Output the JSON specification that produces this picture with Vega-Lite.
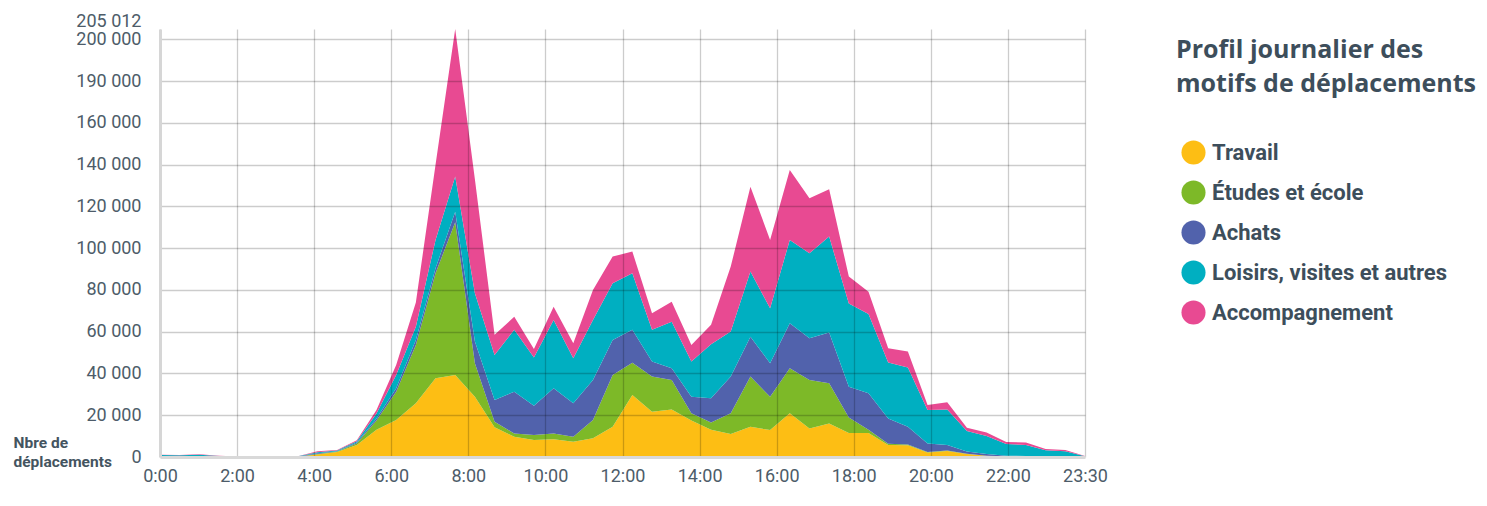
{
"$schema": "https://vega.github.io/schema/vega-lite/v6.json",
"width": 925, "height": 428,
"autosize": {"type": "none"},
"padding": {"left": 160, "top": 29, "right": 402, "bottom": 49},
"background": "white",
"datasets": {
"motifs": [{"m":"Travail","o":0},{"m":"Études et école","o":1},{"m":"Achats","o":2},{"m":"Loisirs, visites et autres","o":3},{"m":"Accompagnement","o":4}],
"trips": [
{"h":0,"m":"Travail","v":100},{"h":0,"m":"Études et école","v":20},{"h":0,"m":"Achats","v":80},{"h":0,"m":"Loisirs, visites et autres","v":700},{"h":0,"m":"Accompagnement","v":200},
{"h":0.5,"m":"Travail","v":100},{"h":0.5,"m":"Études et école","v":20},{"h":0.5,"m":"Achats","v":80},{"h":0.5,"m":"Loisirs, visites et autres","v":600},{"h":0.5,"m":"Accompagnement","v":200},
{"h":1,"m":"Travail","v":100},{"h":1,"m":"Études et école","v":20},{"h":1,"m":"Achats","v":80},{"h":1,"m":"Loisirs, visites et autres","v":900},{"h":1,"m":"Accompagnement","v":200},
{"h":1.5,"m":"Travail","v":50},{"h":1.5,"m":"Études et école","v":10},{"h":1.5,"m":"Achats","v":40},{"h":1.5,"m":"Loisirs, visites et autres","v":350},{"h":1.5,"m":"Accompagnement","v":150},
{"h":2,"m":"Travail","v":50},{"h":2,"m":"Études et école","v":10},{"h":2,"m":"Achats","v":20},{"h":2,"m":"Loisirs, visites et autres","v":120},{"h":2,"m":"Accompagnement","v":80},
{"h":2.5,"m":"Travail","v":50},{"h":2.5,"m":"Études et école","v":10},{"h":2.5,"m":"Achats","v":20},{"h":2.5,"m":"Loisirs, visites et autres","v":120},{"h":2.5,"m":"Accompagnement","v":50},
{"h":3,"m":"Travail","v":50},{"h":3,"m":"Études et école","v":10},{"h":3,"m":"Achats","v":20},{"h":3,"m":"Loisirs, visites et autres","v":120},{"h":3,"m":"Accompagnement","v":50},
{"h":3.5,"m":"Travail","v":150},{"h":3.5,"m":"Études et école","v":20},{"h":3.5,"m":"Achats","v":30},{"h":3.5,"m":"Loisirs, visites et autres","v":120},{"h":3.5,"m":"Accompagnement","v":80},
{"h":4,"m":"Travail","v":1200},{"h":4,"m":"Études et école","v":200},{"h":4,"m":"Achats","v":400},{"h":4,"m":"Loisirs, visites et autres","v":500},{"h":4,"m":"Accompagnement","v":400},
{"h":4.5,"m":"Travail","v":2400},{"h":4.5,"m":"Études et école","v":200},{"h":4.5,"m":"Achats","v":200},{"h":4.5,"m":"Loisirs, visites et autres","v":300},{"h":4.5,"m":"Accompagnement","v":300},
{"h":5,"m":"Travail","v":5800},{"h":5,"m":"Études et école","v":700},{"h":5,"m":"Achats","v":500},{"h":5,"m":"Loisirs, visites et autres","v":500},{"h":5,"m":"Accompagnement","v":500},
{"h":5.5,"m":"Travail","v":13000},{"h":5.5,"m":"Études et école","v":4500},{"h":5.5,"m":"Achats","v":1000},{"h":5.5,"m":"Loisirs, visites et autres","v":2300},{"h":5.5,"m":"Accompagnement","v":1700},
{"h":6,"m":"Travail","v":17700},{"h":6,"m":"Études et école","v":13600},{"h":6,"m":"Achats","v":1600},{"h":6,"m":"Loisirs, visites et autres","v":6400},{"h":6,"m":"Accompagnement","v":4800},
{"h":6.5,"m":"Travail","v":25700},{"h":6.5,"m":"Études et école","v":28000},{"h":6.5,"m":"Achats","v":2400},{"h":6.5,"m":"Loisirs, visites et autres","v":6300},{"h":6.5,"m":"Accompagnement","v":11600},
{"h":7,"m":"Travail","v":37700},{"h":7,"m":"Études et école","v":50300},{"h":7,"m":"Achats","v":2400},{"h":7,"m":"Loisirs, visites et autres","v":13600},{"h":7,"m":"Accompagnement","v":36000},
{"h":7.5,"m":"Travail","v":39300},{"h":7.5,"m":"Études et école","v":73200},{"h":7.5,"m":"Achats","v":5000},{"h":7.5,"m":"Loisirs, visites et autres","v":16800},{"h":7.5,"m":"Accompagnement","v":70712},
{"h":8,"m":"Travail","v":28900},{"h":8,"m":"Études et école","v":16000},{"h":8,"m":"Achats","v":10400},{"h":8,"m":"Loisirs, visites et autres","v":23100},{"h":8,"m":"Accompagnement","v":54600},
{"h":8.5,"m":"Travail","v":14200},{"h":8.5,"m":"Études et école","v":2700},{"h":8.5,"m":"Achats","v":10400},{"h":8.5,"m":"Loisirs, visites et autres","v":21600},{"h":8.5,"m":"Accompagnement","v":9600},
{"h":9,"m":"Travail","v":9700},{"h":9,"m":"Études et école","v":1600},{"h":9,"m":"Achats","v":20000},{"h":9,"m":"Loisirs, visites et autres","v":29600},{"h":9,"m":"Accompagnement","v":6300},
{"h":9.5,"m":"Travail","v":8100},{"h":9.5,"m":"Études et école","v":2400},{"h":9.5,"m":"Achats","v":14000},{"h":9.5,"m":"Loisirs, visites et autres","v":23200},{"h":9.5,"m":"Accompagnement","v":4000},
{"h":10,"m":"Travail","v":8500},{"h":10,"m":"Études et école","v":2800},{"h":10,"m":"Achats","v":21600},{"h":10,"m":"Loisirs, visites et autres","v":32700},{"h":10,"m":"Accompagnement","v":6400},
{"h":10.5,"m":"Travail","v":7300},{"h":10.5,"m":"Études et école","v":2400},{"h":10.5,"m":"Achats","v":16000},{"h":10.5,"m":"Loisirs, visites et autres","v":21600},{"h":10.5,"m":"Accompagnement","v":7200},
{"h":11,"m":"Travail","v":9000},{"h":11,"m":"Études et école","v":8700},{"h":11,"m":"Achats","v":19200},{"h":11,"m":"Loisirs, visites et autres","v":28700},{"h":11,"m":"Accompagnement","v":14400},
{"h":11.5,"m":"Travail","v":14500},{"h":11.5,"m":"Études et école","v":24800},{"h":11.5,"m":"Achats","v":16800},{"h":11.5,"m":"Loisirs, visites et autres","v":27100},{"h":11.5,"m":"Accompagnement","v":12800},
{"h":12,"m":"Travail","v":29700},{"h":12,"m":"Études et école","v":15500},{"h":12,"m":"Achats","v":15700},{"h":12,"m":"Loisirs, visites et autres","v":27100},{"h":12,"m":"Accompagnement","v":10400},
{"h":12.5,"m":"Travail","v":21700},{"h":12.5,"m":"Études et école","v":16800},{"h":12.5,"m":"Achats","v":7200},{"h":12.5,"m":"Loisirs, visites et autres","v":15200},{"h":12.5,"m":"Accompagnement","v":8000},
{"h":13,"m":"Travail","v":22800},{"h":13,"m":"Études et école","v":14100},{"h":13,"m":"Achats","v":5600},{"h":13,"m":"Loisirs, visites et autres","v":22300},{"h":13,"m":"Accompagnement","v":9600},
{"h":13.5,"m":"Travail","v":17500},{"h":13.5,"m":"Études et école","v":3400},{"h":13.5,"m":"Achats","v":8000},{"h":13.5,"m":"Loisirs, visites et autres","v":16800},{"h":13.5,"m":"Accompagnement","v":8000},
{"h":14,"m":"Travail","v":13000},{"h":14,"m":"Études et école","v":3500},{"h":14,"m":"Achats","v":11600},{"h":14,"m":"Loisirs, visites et autres","v":25900},{"h":14,"m":"Accompagnement","v":9300},
{"h":14.5,"m":"Travail","v":11000},{"h":14.5,"m":"Études et école","v":9900},{"h":14.5,"m":"Achats","v":17600},{"h":14.5,"m":"Loisirs, visites et autres","v":21600},{"h":14.5,"m":"Accompagnement","v":31100},
{"h":15,"m":"Travail","v":14500},{"h":15,"m":"Études et école","v":24000},{"h":15,"m":"Achats","v":19100},{"h":15,"m":"Loisirs, visites et autres","v":31200},{"h":15,"m":"Accompagnement","v":40700},
{"h":15.5,"m":"Travail","v":12900},{"h":15.5,"m":"Études et école","v":16000},{"h":15.5,"m":"Achats","v":16000},{"h":15.5,"m":"Loisirs, visites et autres","v":26300},{"h":15.5,"m":"Accompagnement","v":32800},
{"h":16,"m":"Travail","v":20900},{"h":16,"m":"Études et école","v":21600},{"h":16,"m":"Achats","v":21600},{"h":16,"m":"Loisirs, visites et autres","v":39900},{"h":16,"m":"Accompagnement","v":33500},
{"h":16.5,"m":"Travail","v":13700},{"h":16.5,"m":"Études et école","v":23200},{"h":16.5,"m":"Achats","v":20000},{"h":16.5,"m":"Loisirs, visites et autres","v":40700},{"h":16.5,"m":"Accompagnement","v":26400},
{"h":17,"m":"Travail","v":16100},{"h":17,"m":"Études et école","v":19200},{"h":17,"m":"Achats","v":24300},{"h":17,"m":"Loisirs, visites et autres","v":46000},{"h":17,"m":"Accompagnement","v":22700},
{"h":17.5,"m":"Travail","v":11500},{"h":17.5,"m":"Études et école","v":7400},{"h":17.5,"m":"Achats","v":14800},{"h":17.5,"m":"Loisirs, visites et autres","v":39800},{"h":17.5,"m":"Accompagnement","v":12900},
{"h":18,"m":"Travail","v":11500},{"h":18,"m":"Études et école","v":1500},{"h":18,"m":"Achats","v":17500},{"h":18,"m":"Loisirs, visites et autres","v":38000},{"h":18,"m":"Accompagnement","v":10700},
{"h":18.5,"m":"Travail","v":5800},{"h":18.5,"m":"Études et école","v":500},{"h":18.5,"m":"Achats","v":12200},{"h":18.5,"m":"Loisirs, visites et autres","v":26800},{"h":18.5,"m":"Accompagnement","v":6800},
{"h":19,"m":"Travail","v":5600},{"h":19,"m":"Études et école","v":400},{"h":19,"m":"Achats","v":8500},{"h":19,"m":"Loisirs, visites et autres","v":28400},{"h":19,"m":"Accompagnement","v":7600},
{"h":19.5,"m":"Travail","v":2200},{"h":19.5,"m":"Études et école","v":200},{"h":19.5,"m":"Achats","v":4100},{"h":19.5,"m":"Loisirs, visites et autres","v":16000},{"h":19.5,"m":"Accompagnement","v":2400},
{"h":20,"m":"Travail","v":2900},{"h":20,"m":"Études et école","v":200},{"h":20,"m":"Achats","v":2700},{"h":20,"m":"Loisirs, visites et autres","v":17000},{"h":20,"m":"Accompagnement","v":3400},
{"h":20.5,"m":"Travail","v":1400},{"h":20.5,"m":"Études et école","v":100},{"h":20.5,"m":"Achats","v":1100},{"h":20.5,"m":"Loisirs, visites et autres","v":9900},{"h":20.5,"m":"Accompagnement","v":1500},
{"h":21,"m":"Travail","v":600},{"h":21,"m":"Études et école","v":50},{"h":21,"m":"Achats","v":750},{"h":21,"m":"Loisirs, visites et autres","v":8700},{"h":21,"m":"Accompagnement","v":1600},
{"h":21.5,"m":"Travail","v":300},{"h":21.5,"m":"Études et école","v":50},{"h":21.5,"m":"Achats","v":250},{"h":21.5,"m":"Loisirs, visites et autres","v":5600},{"h":21.5,"m":"Accompagnement","v":1000},
{"h":22,"m":"Travail","v":250},{"h":22,"m":"Études et école","v":50},{"h":22,"m":"Achats","v":200},{"h":22,"m":"Loisirs, visites et autres","v":5300},{"h":22,"m":"Accompagnement","v":1100},
{"h":22.5,"m":"Travail","v":150},{"h":22.5,"m":"Études et école","v":30},{"h":22.5,"m":"Achats","v":120},{"h":22.5,"m":"Loisirs, visites et autres","v":2900},{"h":22.5,"m":"Accompagnement","v":600},
{"h":23,"m":"Travail","v":100},{"h":23,"m":"Études et école","v":30},{"h":23,"m":"Achats","v":120},{"h":23,"m":"Loisirs, visites et autres","v":2450},{"h":23,"m":"Accompagnement","v":700},
{"h":23.5,"m":"Travail","v":50},{"h":23.5,"m":"Études et école","v":10},{"h":23.5,"m":"Achats","v":40},{"h":23.5,"m":"Loisirs, visites et autres","v":300},{"h":23.5,"m":"Accompagnement","v":100}
]},
"data": {"name": "trips"},
"transform": [{"lookup": "m", "from": {"data": {"name": "motifs"}, "key": "m", "fields": ["o"]}}],
"mark": {"type": "area", "interpolate": "linear"},
"encoding": {
"x": {"field": "h", "type": "quantitative", "scale": {"domain": [0, 23.5], "nice": false, "zero": false},
 "axis": {"title": null, "values": [0, 1.958333, 3.916667, 5.875, 7.833333, 9.791667, 11.75, 13.708333, 15.666667, 17.625, 19.583333, 21.541667, 23.5],
  "labelExpr": "datum.value > 23 ? '23:30' : round(datum.value * 48 / 47) + ':00'",
  "grid": true, "gridColor": "#000000", "gridOpacity": 0.2, "gridWidth": 1.3, "ticks": false, "tickSize": 0,
  "domain": true, "domainColor": "#d9d9d9", "domainWidth": 3,
  "labelFont": "Roboto", "labelFontSize": 18, "labelColor": "#4d5c69", "labelPadding": 10, "labelOverlap": false, "labelFlush": false, "zindex": 1}},
"y": {"field": "v", "type": "quantitative", "stack": "zero", "scale": {"domain": [0, 205012], "nice": false},
 "axis": {"title": ["Nbre de", "déplacements"], "titleAngle": 0, "titleAlign": "left", "titleBaseline": "alphabetic", "titleX": -147, "titleY": 418,
  "titleFont": "Roboto", "titleFontSize": 15.5, "titleFontWeight": "bold", "titleColor": "#44545f", "titleLineHeight": 19.5, "titleLimit": 300,
  "values": [0, 20000, 40000, 60000, 80000, 100000, 120000, 140000, 160000, 180000, 200000, 205012],
  "labelExpr": "datum.value == 180000 ? '190 000' : replace(format(datum.value, ','), ',', ' ')",
  "labelOffset": {"condition": {"test": "datum.value > 200000", "value": -8}, "value": 0},
  "grid": true, "gridColor": "#000000", "gridOpacity": {"condition": {"test": "datum.value > 200000 || datum.value == 0", "value": 0}, "value": 0.2}, "gridWidth": 1.3,
  "ticks": false, "tickSize": 0, "domain": true, "domainColor": "#d6d6d6", "domainWidth": 3,
  "labelFont": "Roboto", "labelFontSize": 18, "labelColor": "#4d5c69", "labelPadding": 19, "labelOverlap": false, "zindex": 1}},
"color": {"field": "m", "type": "nominal",
 "scale": {"domain": ["Travail", "Études et école", "Achats", "Loisirs, visites et autres", "Accompagnement"], "range": ["#fdbe14", "#7db928", "#5162ac", "#00afc1", "#e84a92"]},
 "legend": {"orient": "none", "legendX": 1016, "legendY": 9, "title": ["Profil journalier des", "motifs de déplacements"],
  "titleFont": "Open Sans", "titleFontSize": 25, "titleFontWeight": "bold", "titleColor": "#3d4e5b", "titleLineHeight": 34, "titlePadding": 43, "titleLimit": 400,
  "symbolType": "circle", "symbolSize": 580, "symbolStrokeWidth": 0, "symbolOpacity": 1, "symbolOffset": 5,
  "labelFont": "Roboto", "labelFontSize": 22, "labelFontWeight": "bold", "labelColor": "#3d4e5b", "labelOffset": 6, "rowPadding": 15, "padding": 0, "labelLimit": 400}},
"order": {"field": "o", "type": "quantitative", "sort": "ascending"}
},
"config": {"view": {"stroke": null}}
}
